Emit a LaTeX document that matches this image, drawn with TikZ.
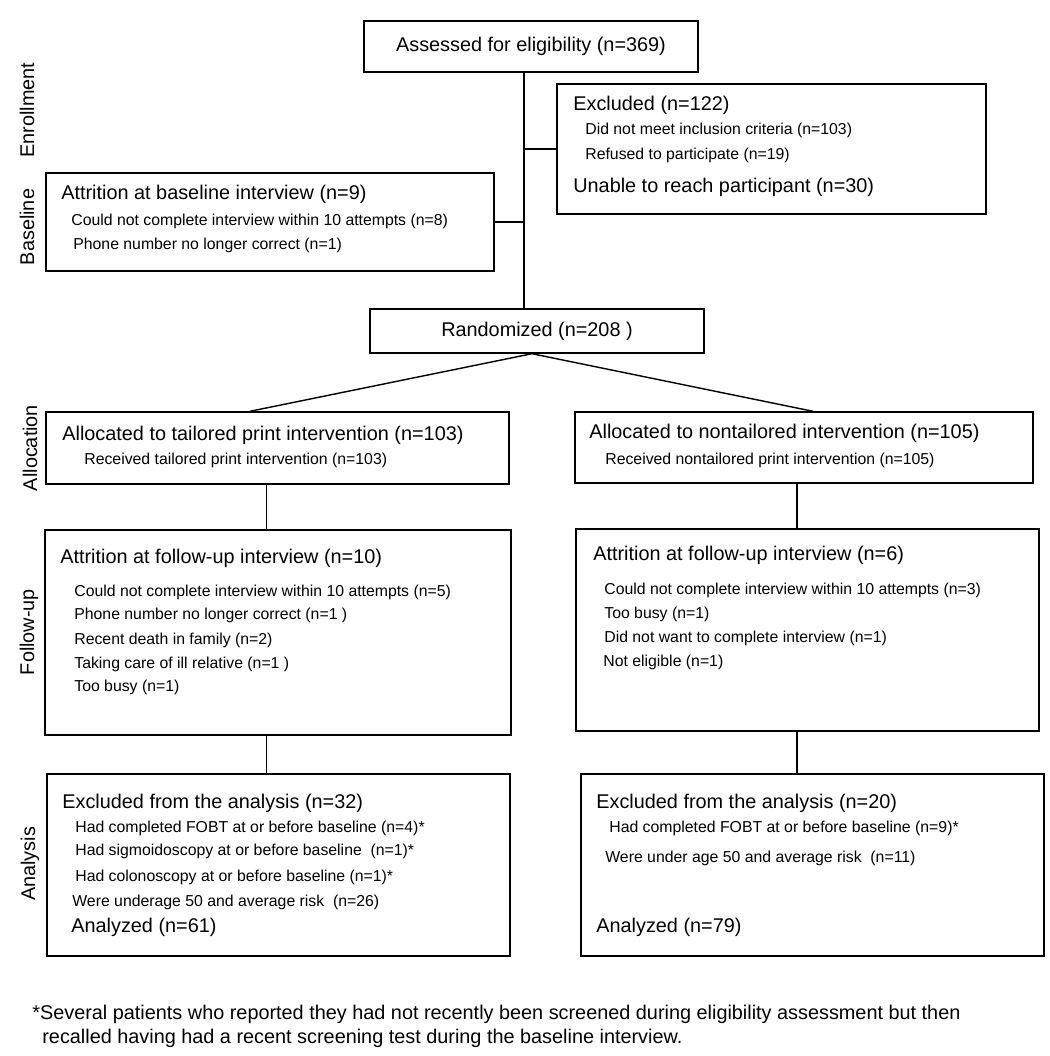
\documentclass[tikz,border=0pt]{standalone}
\usepackage{fontspec}
\setmainfont{Liberation Sans}
\newlength\px
\setlength\px{0.02cm}
\newcommand\bigtxt{\fontsize{11.3}{13}\selectfont}
\newcommand\smalltxt{\fontsize{9}{11}\selectfont}
\tikzset{
  box/.style={draw, line width=0.8pt, inner sep=0pt, font=\bigtxt},
  conn/.style={line width=0.8pt},
  head/.style={anchor=west, inner sep=0pt, font=\bigtxt},
  item/.style={anchor=west, inner sep=0pt, font=\smalltxt},
  phase/.style={rotate=90, inner sep=0pt, font=\bigtxt}
}
\begin{document}
\begin{tikzpicture}[x=0.02cm, y=-0.02cm]
              \useasboundingbox (0,0) rectangle (1050,1056);
              \node[box, minimum width=334\px, minimum height=51\px] (assessed) at (531,46.5) {Assessed for eligibility (n=369)};
              \node[box, minimum width=429\px, minimum height=130\px] (excluded) at (771.5,149) {};
              \node[box, minimum width=448\px, minimum height=98\px] (baseline) at (270,222) {};
              \node[box, minimum width=334\px, minimum height=44\px] (randomized) at (537,331) {Randomized (n=208 )};
              \node[box, minimum width=463\px, minimum height=72\px] (allocT) at (277.5,448) {};
              \node[box, minimum width=458\px, minimum height=71\px] (allocN) at (804,447.5) {};
              \node[box, minimum width=466\px, minimum height=205\px] (followT) at (278,632.5) {};
              \node[box, minimum width=463\px, minimum height=202\px] (followN) at (807.5,630) {};
              \node[box, minimum width=463\px, minimum height=182\px] (analysisT) at (278.5,865) {};
              \node[box, minimum width=463\px, minimum height=182\px] (analysisN) at (812.5,865) {};

              \node[phase] (enrol) at (27,110) {Enrollment};
              \node[phase] (basel) at (27,227) {Baseline};
              \node[phase] (alloc) at (30,448) {Allocation};
              \node[phase] (follow) at (29,632) {Follow-up};
              \node[phase] (analys) at (30,864) {Analysis};

              \node[head] (exclH) at (573,105.5) {Excluded (n=122)};
              \node[item] (exclA) at (585,130.5) {Did not meet inclusion criteria (n=103)};
              \node[item] (exclB) at (585,155) {Refused to participate (n=19)};
              \node[head] (exclU) at (573,187.5) {Unable to reach participant (n=30)};

              \node[head] (baseH) at (61,194) {Attrition at baseline interview (n=9)};
              \node[item] (baseA) at (71,221.5) {Could not complete interview within 10 attempts (n=8)};
              \node[item] (baseB) at (73,245.5) {Phone number no longer correct (n=1)};

              \node[head] (allocTH) at (62,435) {Allocated to tailored print intervention (n=103)};
              \node[item] (allocTA) at (84,460) {Received tailored print intervention (n=103)};
              \node[head] (allocNH) at (589,433) {Allocated to nontailored intervention (n=105)};
              \node[item] (allocNA) at (605,460) {Received nontailored print intervention (n=105)};

              \node[head] (followTH) at (60,558) {Attrition at follow-up interview (n=10)};
              \foreach \y/\txt [count=\k] in {592/Could not complete interview within 10 attempts (n=5),
                  615/Phone number no longer correct (n=1 ),
                  640/Recent death in family (n=2),
                  664/Taking care of ill relative (n=1 ),
                  687/Too busy (n=1)} {
                  \node[item] (followT\k) at (74,\y) {\txt};
              }
              \node[head] (followNH) at (593,555) {Attrition at follow-up interview (n=6)};
              \foreach \y/\txt [count=\k] in {590/Could not complete interview within 10 attempts (n=3),
                  614/Too busy (n=1),
                  638/Did not want to complete interview (n=1)} {
                  \node[item] (followN\k) at (604,\y) {\txt};
              }
              \node[item] (followN4) at (603,662) {Not eligible (n=1)};

              \node[head] (analysisTH) at (62,803) {Excluded from the analysis (n=32)};
              \foreach \y/\txt [count=\k] in {828/Had completed FOBT at or before baseline (n=4)*,
                  851/Had sigmoidoscopy at or before baseline~ (n=1)*,
                  877/Had colonoscopy at or before baseline (n=1)*} {
                  \node[item] (analysisT\k) at (75,\y) {\txt};
              }
              \node[item] (analysisT4) at (72,902) {Were underage 50 and average risk~ (n=26)};
              \node[head] (analysisTR) at (71,927) {Analyzed (n=61)};
              \node[head] (analysisNH) at (596,803) {Excluded from the analysis (n=20)};
              \node[item] (analysisN1) at (609,828) {Had completed FOBT at or before baseline (n=9)*};
              \node[item] (analysisN2) at (605,858) {Were under age 50 and average risk~ (n=11)};
              \node[head] (analysisNR) at (596,927) {Analyzed (n=79)};

              \node[head] (note1) at (32,1014) {*Several patients who reported they had not recently been screened during eligibility assessment but then};
              \node[head] (note2) at (42,1038) {recalled having had a recent screening test during the baseline interview.};

              \coordinate (spine) at (524,0);
              \coordinate (colT) at (266.5,0);
              \coordinate (colN) at (797,0);
              \draw[conn] (assessed.south -| spine) -- (randomized.north -| spine);
              \draw[conn] (excluded.west -| spine) -- (excluded.west);
              \draw[conn] (baseline.east) -- (baseline.east -| spine);
              \draw[conn] ([xshift=-5\px]randomized.south) -- ([xshift=-27.5\px]allocT.north);
              \draw[conn] ([xshift=-5\px]randomized.south) -- ([xshift=9\px]allocN.north);
              \draw[conn] (allocT.south -| colT) -- (followT.north -| colT);
              \draw[conn] (followT.south -| colT) -- (analysisT.north -| colT);
              \draw[conn] (allocN.south -| colN) -- (followN.north -| colN);
              \draw[conn] (followN.south -| colN) -- (analysisN.north -| colN);
        \end{tikzpicture}
\end{document}
